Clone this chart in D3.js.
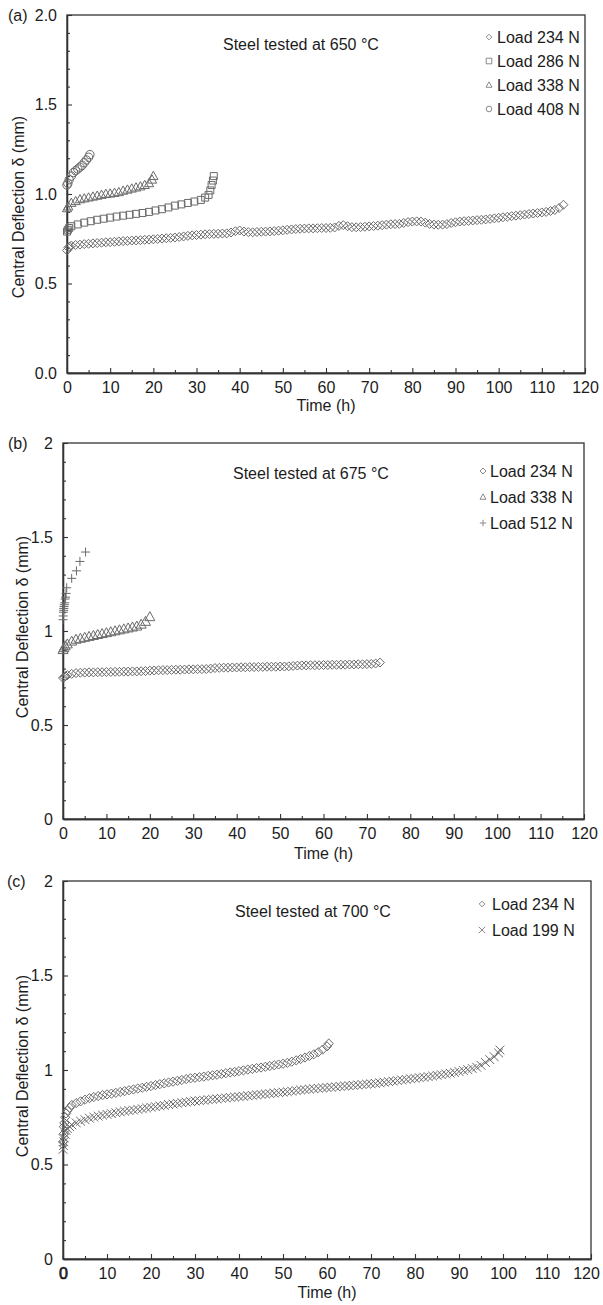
<!DOCTYPE html>
<html>
<head>
<meta charset="utf-8">
<script src="https://cdn.jsdelivr.net/npm/d3@7"></script>
<style>
  body { margin: 0; background: #fff; }
  svg text { font-family: "Liberation Sans", Arial, Helvetica, sans-serif; fill: #1c1c1c; }
</style>
</head>
<body>
<svg id="chart" width="603" height="1305"></svg>
<script>
// ---- tick values and labels ----
const xTickValues = [0, 10, 20, 30, 40, 50, 60, 70, 80, 90, 100, 110, 120];
const xMinorTicks = [5, 15, 25, 35, 45, 55, 65, 75, 85, 95, 105, 115];
const yTickValues = [0, 0.5, 1, 1.5, 2];
const yMinorTicks = [0.1, 0.2, 0.3, 0.4, 0.6, 0.7, 0.8, 0.9, 1.1, 1.2, 1.3, 1.4, 1.6, 1.7, 1.8, 1.9];
const yTickLabelsA = ["0.0", "0.5", "1.0", "1.5", "2.0"];
const yTickLabelsBC = ["0", "0.5", "1", "1.5", "2"];
const panelLetters = ["(a)", "(b)", "(c)"];
const panelTitles = ["Steel tested at 650 \u00B0C", "Steel tested at 675 \u00B0C", "Steel tested at 700 \u00B0C"];
const xAxisTitle = "Time (h)";
const yAxisTitle = "Central Deflection \u03B4 (mm)";

// ---- creep curves: [time (h), central deflection (mm)] ----
// 650 °C
const load234At650 = [[0,0.685],[0.3,0.70],[0.6,0.706],[1,0.712],[2,0.715],[3,0.717],[4,0.72],[5,0.722],[6,0.724],[7,0.726],[8,0.728],[9,0.73],[10,0.731],[11,0.733],[12,0.735],[13,0.737],[14,0.738],[15,0.74],[16,0.741],[17,0.742],[18,0.744],[19,0.745],[20,0.747],[21,0.749],[22,0.751],[23,0.753],[24,0.755],[25,0.757],[26,0.76],[27,0.763],[28,0.766],[29,0.769],[30,0.771],[31,0.773],[32,0.775],[33,0.776],[34,0.777],[35,0.778],[36,0.779],[37,0.78],[38,0.785],[39,0.792],[40,0.796],[41,0.79],[42,0.787],[43,0.786],[44,0.788],[45,0.789],[46,0.79],[47,0.791],[48,0.793],[49,0.795],[50,0.797],[51,0.8],[52,0.802],[53,0.804],[54,0.806],[55,0.807],[56,0.808],[57,0.808],[58,0.809],[59,0.81],[60,0.81],[61,0.811],[62,0.813],[63,0.822],[64,0.826],[65,0.82],[66,0.815],[67,0.814],[68,0.815],[69,0.817],[70,0.819],[71,0.821],[72,0.823],[73,0.826],[74,0.829],[75,0.831],[76,0.832],[77,0.833],[78,0.838],[79,0.843],[80,0.846],[81,0.847],[82,0.846],[83,0.84],[84,0.833],[85,0.829],[86,0.828],[87,0.829],[88,0.832],[89,0.838],[90,0.842],[91,0.846],[92,0.848],[93,0.85],[94,0.852],[95,0.854],[96,0.856],[97,0.858],[98,0.861],[99,0.864],[100,0.867],[101,0.87],[102,0.873],[103,0.876],[104,0.879],[105,0.882],[106,0.885],[107,0.888],[108,0.891],[109,0.894],[110,0.897],[111,0.9],[112,0.905],[113,0.911],[114,0.922],[115,0.94]];
const load286At650 = [[0,0.79],[0.2,0.80],[0.5,0.81],[1,0.82],[2.5,0.83],[4,0.84],[5.5,0.848],[7,0.856],[8.5,0.862],[10,0.868],[11.5,0.874],[13,0.879],[14.5,0.884],[16,0.889],[17.5,0.894],[19,0.9],[20.5,0.908],[22,0.915],[23.5,0.925],[25,0.935],[26.5,0.942],[28,0.95],[29.5,0.958],[31,0.967],[32,0.98],[32.8,0.995],[33.2,1.02],[33.5,1.05],[33.8,1.075],[34,1.1]];
const load338At650 = [[0,0.92],[0.3,0.93],[1,0.95],[2,0.96],[3,0.97],[4,0.975],[5,0.98],[6,0.985],[7,0.99],[8,0.995],[9,1.0],[10,1.002],[11,1.006],[12,1.01],[13,1.018],[14,1.024],[15,1.03],[16,1.036],[17,1.042],[18,1.05],[19,1.06],[19.7,1.08],[20,1.1]];
const load408At650 = [[0,1.05],[0.2,1.06],[0.5,1.08],[1,1.1],[1.5,1.12],[2,1.13],[2.5,1.14],[3,1.15],[3.5,1.16],[4,1.175],[4.5,1.19],[5,1.205],[5.3,1.22]];
// 675 °C
const load234At675 = [[0,0.75],[0.3,0.755],[0.6,0.76],[1,0.765],[2,0.772],[3,0.776],[4,0.778],[5,0.779],[6,0.78],[7,0.78],[8,0.781],[9,0.781],[10,0.782],[11,0.782],[12,0.783],[13,0.783],[14,0.784],[15,0.784],[16,0.785],[17,0.785],[18,0.786],[19,0.787],[20,0.789],[21,0.79],[22,0.791],[23,0.792],[24,0.792],[25,0.793],[26,0.794],[27,0.794],[28,0.795],[29,0.796],[30,0.796],[31,0.797],[32,0.797],[33,0.798],[34,0.8],[35,0.803],[36,0.804],[37,0.805],[38,0.805],[39,0.806],[40,0.806],[41,0.807],[42,0.807],[43,0.808],[44,0.808],[45,0.809],[46,0.809],[47,0.81],[48,0.81],[49,0.81],[50,0.811],[51,0.811],[52,0.812],[53,0.814],[54,0.816],[55,0.817],[56,0.817],[57,0.818],[58,0.818],[59,0.818],[60,0.819],[61,0.819],[62,0.82],[63,0.82],[64,0.821],[65,0.821],[66,0.822],[67,0.822],[68,0.823],[69,0.823],[70,0.824],[71,0.825],[72,0.827],[73,0.832]];
const load338At675 = [[0,0.9],[0.2,0.91],[0.5,0.92],[1,0.93],[2,0.945],[3,0.955],[4,0.96],[5,0.965],[6,0.97],[7,0.975],[8,0.98],[9,0.985],[10,0.99],[11,0.995],[12,1.0],[13,1.005],[14,1.01],[15,1.015],[16,1.02],[17,1.025],[18,1.035],[19,1.05],[20,1.075]];
const load512At675 = [[0,1.06],[0.05,1.08],[0.1,1.1],[0.15,1.11],[0.2,1.12],[0.25,1.13],[0.3,1.14],[0.4,1.15],[0.5,1.17],[0.6,1.18],[0.7,1.2],[0.85,1.23],[2.0,1.28],[3.1,1.32],[3.9,1.37],[5.2,1.42]];
// 700 °C
const load234At700 = [[0,0.62],[0.1,0.66],[0.2,0.7],[0.3,0.72],[0.5,0.75],[0.7,0.77],[1,0.785],[1.5,0.8],[2,0.815],[3,0.825],[4,0.834],[5,0.843],[6,0.851],[7,0.857],[8,0.862],[9,0.867],[10,0.871],[11,0.875],[12,0.879],[13,0.884],[14,0.888],[15,0.893],[16,0.897],[17,0.902],[18,0.906],[19,0.911],[20,0.915],[21,0.92],[22,0.925],[23,0.929],[24,0.934],[25,0.938],[26,0.943],[27,0.947],[28,0.952],[29,0.956],[30,0.959],[31,0.962],[32,0.965],[33,0.969],[34,0.972],[35,0.975],[36,0.979],[37,0.983],[38,0.987],[39,0.99],[40,0.994],[41,0.998],[42,1.002],[43,1.006],[44,1.01],[45,1.013],[46,1.017],[47,1.021],[48,1.025],[49,1.029],[50,1.033],[51,1.038],[52,1.044],[53,1.051],[54,1.058],[55,1.066],[56,1.074],[57,1.083],[58,1.094],[59,1.108],[60,1.125],[60.4,1.14]];
const load199At700 = [[0,0.58],[0.1,0.6],[0.2,0.62],[0.3,0.64],[0.5,0.66],[0.7,0.68],[1,0.69],[1.5,0.7],[2,0.71],[3,0.72],[4,0.729],[5,0.737],[6,0.745],[7,0.751],[8,0.756],[9,0.761],[10,0.765],[11,0.769],[12,0.774],[13,0.778],[14,0.782],[15,0.785],[16,0.788],[17,0.792],[18,0.795],[19,0.799],[20,0.803],[21,0.806],[22,0.81],[23,0.813],[24,0.817],[25,0.82],[26,0.824],[27,0.827],[28,0.83],[29,0.833],[30,0.836],[31,0.838],[32,0.84],[33,0.843],[34,0.845],[35,0.847],[36,0.85],[37,0.852],[38,0.855],[39,0.857],[40,0.859],[41,0.861],[42,0.864],[43,0.866],[44,0.868],[45,0.871],[46,0.873],[47,0.875],[48,0.878],[49,0.88],[50,0.883],[51,0.885],[52,0.888],[53,0.891],[54,0.894],[55,0.896],[56,0.899],[57,0.901],[58,0.903],[59,0.905],[60,0.907],[61,0.909],[62,0.911],[63,0.913],[64,0.915],[65,0.917],[66,0.919],[67,0.921],[68,0.923],[69,0.925],[70,0.927],[71,0.929],[72,0.932],[73,0.935],[74,0.938],[75,0.941],[76,0.944],[77,0.947],[78,0.95],[79,0.953],[80,0.956],[81,0.959],[82,0.962],[83,0.965],[84,0.968],[85,0.972],[86,0.975],[87,0.979],[88,0.983],[89,0.987],[90,0.992],[91,0.997],[92,1.002],[93,1.008],[94,1.015],[95,1.025],[96,1.04],[97,1.055],[98,1.07],[99,1.09],[99.3,1.106]];

const legendLabels650 = ["Load 234 N", "Load 286 N", "Load 338 N", "Load 408 N"];
const legendLabels675 = ["Load 234 N", "Load 338 N", "Load 512 N"];
const legendLabels700 = ["Load 234 N", "Load 199 N"];

// ---- open marker shapes (size = half-width in px) ----
const diamondShape = { draw(c, r) { c.moveTo(0, -r); c.lineTo(r, 0); c.lineTo(0, r); c.lineTo(-r, 0); c.closePath(); } };
const squareShape = { draw(c, r) { c.rect(-r, -r, 2 * r, 2 * r); } };
const triangleShape = { draw(c, r) { c.moveTo(0, -r * 1.05); c.lineTo(r, r * 0.75); c.lineTo(-r, r * 0.75); c.closePath(); } };
const circleShape = { draw(c, r) { c.moveTo(r, 0); c.arc(0, 0, r, 0, 2 * Math.PI); } };
const plusShape = { draw(c, r) { c.moveTo(-r, 0); c.lineTo(r, 0); c.moveTo(0, -r); c.lineTo(0, r); } };
const timesShape = { draw(c, r) { c.moveTo(-r, -r); c.lineTo(r, r); c.moveTo(-r, r); c.lineTo(r, -r); } };

const markerStroke = "#6a6a6a";
const legendStroke = "#8a8a8a";
const axisColor = "#333";

const panels = [
  {
    box: { left: 67, right: 585, top: 15, bottom: 373 },
    letter: panelLetters[0], title: panelTitles[0], yLabels: yTickLabelsA,
    letterPos: [8, 15], titlePos: [223, 44], yTitlePos: [18, 207], xTitleY: 405,
    legend: { markerX: 489, textX: 497, rows: [37, 61, 85, 109], labels: legendLabels650 },
    series: [
      { data: load234At650, shape: diamondShape, r: 4.5, lr: 2.8 },
      { data: load286At650, shape: squareShape, r: 3.5, lr: 2.8 },
      { data: load338At650, shape: triangleShape, r: 4.6, lr: 3.0 },
      { data: load408At650, shape: circleShape, r: 4.2, lr: 2.8 }
    ]
  },
  {
    box: { left: 63, right: 584, top: 443, bottom: 819 },
    letter: panelLetters[1], title: panelTitles[1], yLabels: yTickLabelsBC,
    letterPos: [8, 443], titlePos: [233, 473], yTitlePos: [22, 627], xTitleY: 853,
    legend: { markerX: 483, textX: 490, rows: [471, 497, 523], labels: legendLabels675 },
    series: [
      { data: load234At675, shape: diamondShape, r: 4.5, lr: 3.0 },
      { data: load338At675, shape: triangleShape, r: 5.0, lr: 3.0 },
      { data: load512At675, shape: plusShape, r: 4.5, lr: 3.2 }
    ]
  },
  {
    box: { left: 63, right: 591, top: 881, bottom: 1259 },
    letter: panelLetters[2], title: panelTitles[2], yLabels: yTickLabelsBC, boldZero: true, lastLabelShift: -5,
    letterPos: [7, 881], titlePos: [235, 911], yTitlePos: [22, 1066], xTitleY: 1292,
    legend: { markerX: 482, textX: 492, rows: [904, 930], labels: legendLabels700 },
    series: [
      { data: load234At700, shape: diamondShape, r: 4.6, lr: 2.8 },
      { data: load199At700, shape: timesShape, r: 4.4, lr: 3.2 }
    ]
  }
];

const svg = d3.select("#chart");

panels.forEach(p => {
  const b = p.box;
  const x = d3.scaleLinear().domain([0, 120]).range([b.left, b.right]);
  const y = d3.scaleLinear().domain([0, 2]).range([b.bottom, b.top]);
  const g = svg.append("g");

  // frame
  g.append("rect")
    .attr("x", b.left).attr("y", b.top)
    .attr("width", b.right - b.left).attr("height", b.bottom - b.top)
    .attr("fill", "none").attr("stroke", axisColor).attr("stroke-width", 1.3);

  // x axis: major and minor ticks pointing inward
  const xAxis = g.append("g").attr("transform", `translate(0,${b.bottom})`)
    .call(d3.axisBottom(x).tickValues(xTickValues).tickSizeInner(-5).tickSizeOuter(0)
      .tickPadding(9).tickFormat(d3.format("d")));
  g.append("g").attr("transform", `translate(0,${b.bottom})`)
    .call(d3.axisBottom(x).tickValues(xMinorTicks).tickSizeInner(-3).tickSizeOuter(0).tickFormat(""));

  // y axis
  g.append("g").attr("transform", `translate(${b.left},0)`)
    .call(d3.axisLeft(y).tickValues(yTickValues).tickSizeInner(-5).tickSizeOuter(0)
      .tickPadding(10).tickFormat((d, i) => p.yLabels[i]));
  g.append("g").attr("transform", `translate(${b.left},0)`)
    .call(d3.axisLeft(y).tickValues(yMinorTicks).tickSizeInner(-3).tickSizeOuter(0).tickFormat(""));

  g.selectAll(".domain").attr("stroke", axisColor).attr("stroke-width", 1.3);
  g.selectAll(".tick line").attr("stroke", axisColor).attr("stroke-width", 1.1);
  g.selectAll(".tick text").attr("font-size", 16)
    .attr("font-family", '"Liberation Sans", Arial, Helvetica, sans-serif').attr("fill", "#1c1c1c");

  if (p.boldZero) {
    xAxis.selectAll(".tick text").filter(d => d === 0)
      .attr("stroke", "#1c1c1c").attr("stroke-width", 0.7);
  }
  if (p.lastLabelShift) {
    xAxis.selectAll(".tick text").filter(d => d === 120).attr("dx", p.lastLabelShift);
  }

  // panel letter
  g.append("text").attr("x", p.letterPos[0]).attr("y", p.letterPos[1]).attr("dy", "0.35em")
    .attr("font-size", 16).text(p.letter);

  // axis titles
  g.append("text").attr("x", (b.left + b.right) / 2).attr("y", p.xTitleY).attr("dy", "0.35em")
    .attr("text-anchor", "middle").attr("font-size", 16).text(xAxisTitle);
  g.append("text")
    .attr("transform", `translate(${p.yTitlePos[0]},${p.yTitlePos[1]}) rotate(-90)`)
    .attr("dy", "0.35em").attr("text-anchor", "middle").attr("font-size", 16).text(yAxisTitle);

  // temperature note
  g.append("text").attr("x", p.titlePos[0]).attr("y", p.titlePos[1]).attr("dy", "0.35em")
    .attr("font-size", 16).text(p.title);

  // data markers
  p.series.forEach(s => {
    const sym = d3.symbol().type(s.shape).size(s.r);
    g.append("g").selectAll("path").data(s.data).join("path")
      .attr("transform", d => `translate(${x(d[0])},${y(d[1])})`)
      .attr("d", sym)
      .attr("fill", "none").attr("stroke", markerStroke).attr("stroke-width", 1);
  });

  // legend
  const lg = g.append("g");
  p.series.forEach((s, i) => {
    const ry = p.legend.rows[i];
    lg.append("path")
      .attr("transform", `translate(${p.legend.markerX},${ry})`)
      .attr("d", d3.symbol().type(s.shape).size(s.lr)())
      .attr("fill", "none").attr("stroke", legendStroke).attr("stroke-width", 1);
    lg.append("text").attr("x", p.legend.textX).attr("y", ry).attr("dy", "0.35em")
      .attr("font-size", 16).text(p.legend.labels[i]);
  });
});
</script>
</body>
</html>
